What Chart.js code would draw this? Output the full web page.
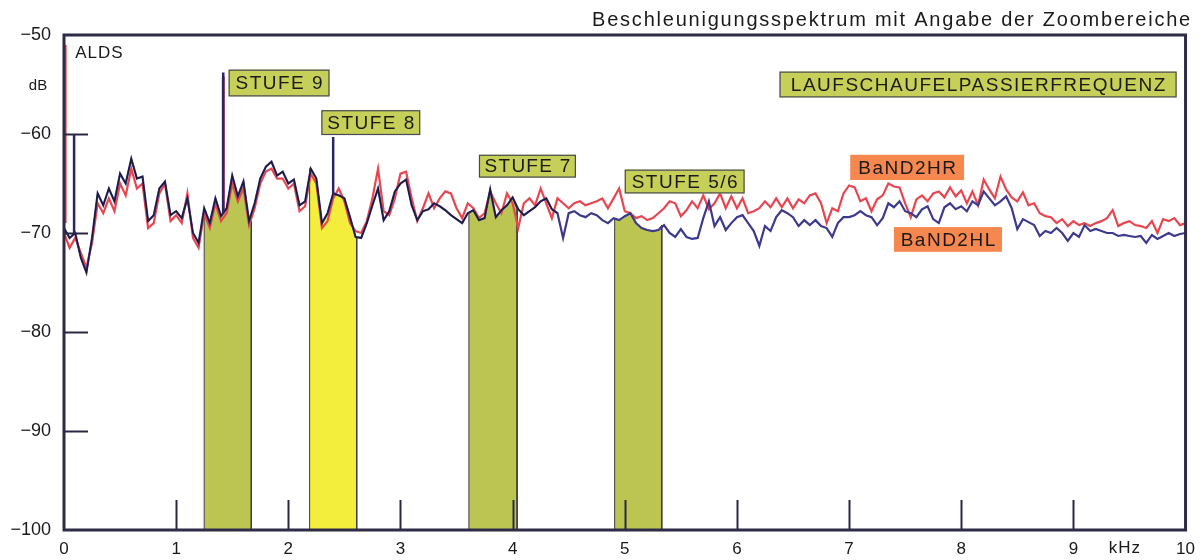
<!DOCTYPE html>
<html lang="de">
<head>
    <meta charset="UTF-8">
    <title>Beschleunigungsspektrum</title>
    <script src="https://cdn.jsdelivr.net/npm/chart.js"></script>
    <style>
        body { margin: 0; background: #fff; }
        #wrap { width: 1204px; height: 560px; }
    </style>
</head>
<body>
    <div id="wrap"><canvas id="spectrum" width="1204" height="560"></canvas></div>

    <script>
        // Spektrum, 0..10 kHz in Schritten von 0,05 kHz (Werte in dB)
        const stepKHz = 0.05;

        const bandHL = [
            -69.5,-70.5,-70.0,-72.5,-74.0,-70.5,-66.0,-67.2,-65.5,-66.8,-64.0,-65.0,-62.5,-64.5,-64.3,-68.8,-68.2,-65.5,-64.8,-68.2,
            -67.8,-68.5,-66.5,-70.0,-71.0,-67.5,-69.0,-66.5,-68.3,-67.5,-64.2,-66.3,-64.8,-68.8,-67.0,-64.5,-63.3,-62.8,-64.2,-63.8,
            -65.0,-64.6,-67.2,-66.8,-63.5,-64.5,-69.0,-68.0,-66.0,-66.2,-66.5,-68.4,-70.4,-70.5,-69.0,-67.2,-65.5,-68.7,-67.8,-65.8,
            -65.0,-64.6,-67.2,-68.7,-67.8,-67.6,-67.0,-67.3,-67.7,-68.2,-68.6,-69.0,-68.0,-67.7,-68.7,-68.5,-65.6,-68.4,-67.7,-67.2,
            -66.4,-67.6,-68.2,-67.8,-67.4,-66.8,-66.5,-67.6,-68.0,-70.5,-68.0,-67.8,-68.2,-68.4,-68.0,-68.2,-68.7,-69.0,-68.5,-68.7,
            -68.3,-68.0,-69.0,-69.5,-69.7,-69.8,-69.7,-69.2,-70.0,-70.4,-69.6,-70.4,-70.6,-70.5,-68.5,-66.8,-69.3,-68.4,-69.7,-69.0,
            -68.4,-68.2,-69.0,-69.8,-71.3,-69.3,-69.8,-68.4,-67.7,-68.0,-68.4,-69.3,-68.7,-69.2,-68.7,-69.3,-69.5,-70.4,-69.0,-68.4,
            -68.4,-68.2,-67.8,-68.2,-68.4,-69.2,-68.5,-67.0,-67.4,-66.8,-67.8,-68.0,-68.4,-67.6,-67.3,-68.6,-69.0,-67.4,-67.0,-67.6,
            -67.3,-67.8,-66.8,-67.2,-65.8,-66.5,-67.2,-66.8,-66.3,-67.5,-69.6,-68.6,-68.9,-69.2,-70.3,-69.8,-70.0,-69.5,-70.0,-70.8,
            -70.0,-70.4,-69.2,-69.8,-69.6,-69.8,-70.0,-70.0,-70.3,-70.2,-70.3,-70.4,-70.3,-71.0,-70.2,-70.6,-70.3,-70.0,-70.3,-70.1,
            -70.0
        ];

        const bandHR = [
            -70.0,-71.5,-70.5,-72.0,-73.5,-71.0,-67.0,-68.0,-66.5,-67.8,-65.0,-66.2,-63.5,-65.5,-65.0,-69.5,-69.0,-66.0,-65.0,-68.8,
            -68.2,-69.0,-66.0,-70.5,-71.5,-68.0,-69.5,-67.0,-68.8,-68.0,-65.0,-66.8,-65.5,-69.2,-67.5,-65.0,-63.8,-63.5,-64.5,-64.5,
            -65.5,-65.0,-67.8,-67.3,-64.0,-65.0,-69.5,-68.8,-66.5,-65.5,-66.8,-69.0,-69.8,-70.0,-68.8,-66.5,-63.5,-67.8,-68.2,-66.5,
            -64.0,-63.8,-66.5,-68.8,-67.5,-66.0,-67.5,-66.5,-65.8,-66.0,-67.5,-68.5,-67.0,-67.5,-68.5,-68.0,-65.8,-67.0,-68.0,-66.0,
            -67.0,-69.5,-67.0,-66.5,-67.2,-65.5,-67.0,-68.5,-66.5,-67.0,-67.5,-67.0,-66.8,-67.2,-67.0,-66.8,-66.5,-67.5,-66.5,-65.5,
            -67.8,-68.0,-68.5,-68.3,-68.7,-68.5,-68.0,-67.5,-66.8,-67.0,-68.3,-67.7,-66.8,-67.5,-66.2,-67.6,-67.0,-66.0,-67.5,-66.3,
            -67.5,-66.5,-68.0,-67.8,-67.5,-66.8,-67.4,-66.5,-67.4,-66.5,-67.5,-66.6,-67.0,-66.2,-66.0,-67.0,-69.0,-67.5,-67.8,-66.0,
            -65.2,-65.4,-66.8,-66.5,-67.8,-66.6,-66.2,-65.0,-65.3,-65.4,-67.0,-68.4,-66.6,-66.2,-66.8,-66.0,-65.8,-66.4,-65.4,-66.3,
            -65.7,-67.0,-65.8,-67.2,-64.6,-65.6,-66.5,-64.3,-65.6,-66.4,-66.8,-65.9,-67.2,-67.0,-68.0,-68.3,-68.4,-69.0,-68.6,-69.3,
            -68.8,-69.2,-69.0,-69.3,-69.0,-68.8,-68.5,-67.7,-69.3,-69.0,-68.8,-69.2,-69.3,-69.5,-68.8,-70.0,-68.6,-68.8,-68.5,-69.2,
            -69.0
        ];

        // schmale Spitzen: [kHz, Fuss dB, Spitze dB]
        const peaksHL = [[0.09, -70.0, -60.0], [1.42, -68.0, -53.8], [2.40, -66.0, -60.3]];
        const peaksHR = [[0.01, -69.0, -51.0], [1.42, -68.0, -54.2]];

        // Zoombereiche [von kHz, bis kHz, Farbe]
        const zoomBands = [
            [1.25, 1.67, '#bcc552'],
            [2.19, 2.61, '#f3ee3c'],
            [3.61, 4.04, '#bcc552'],
            [4.91, 5.33, '#bcc552']
        ];

        const xTicks = [0, 1, 2, 3, 4, 5, 6, 7, 8, 9, 10];
        const yTicks = [-100, -90, -80, -70, -60, -50];

        // Beschriftungskaesten: [Text, x0, x1, yOben, yUnten, Hintergrund, Rahmen]
        const boxes = [
            ['STUFE 9', 1.468, 2.367, -53.5, -56.2, '#c6cf58', true],
            ['STUFE 8', 2.295, 3.176, -57.6, -60.1, '#c6cf58', true],
            ['STUFE 7', 3.70, 4.564, -62.1, -64.4, '#c6cf58', true],
            ['STUFE 5/6', 5.0, 6.068, -63.6, -66.0, '#c6cf58', true],
            ['LAUFSCHAUFELPASSIERFREQUENZ', 6.38, 9.92, -53.7, -56.3, '#c6cf58', true],
            ['BaND2HR', 7.01, 8.025, -62.1, -64.65, '#f5874f', false],
            ['BaND2HL', 7.40, 8.363, -69.4, -71.9, '#f5874f', false]
        ];

        const freqs = bandHL.map((_, i) => +(i * stepKHz).toFixed(2));
        const toPoints = arr => arr.map((v, i) => ({ x: freqs[i], y: v }));

        function bandData(from, to) {
            const iA = Math.round(from / stepKHz);
            const iB = Math.round(to / stepKHz);
            const pts = [{ x: from, y: -100 }, { x: from, y: bandHL[iA] }];
            for (let i = iA; i <= iB; i++) {
                if (freqs[i] > from && freqs[i] < to) pts.push({ x: freqs[i], y: bandHL[i] });
            }
            pts.push({ x: to, y: bandHL[iB] }, { x: to, y: -100 });
            return pts;
        }

        const datasets = [];

        peaksHL.forEach(p => datasets.push({
            data: [{ x: p[0], y: p[1] }, { x: p[0], y: p[2] }],
            borderColor: '#2a2660', borderWidth: 2.5, order: 0
        }));

        // dunkle Ueberdeckung im linken Teil
        datasets.push({
            data: toPoints(bandHL).filter(p => p.x <= 4.4),
            borderColor: '#1c1a30', borderWidth: 1.3, order: 1
        });

        datasets.push({ label: 'BaND2HL', data: toPoints(bandHL), borderColor: '#3d3a8e', borderWidth: 2.2, order: 2 });

        peaksHR.forEach(p => datasets.push({
            data: [{ x: p[0], y: p[1] }, { x: p[0], y: p[2] }],
            borderColor: '#e8454f', borderWidth: 3, order: 3
        }));

        datasets.push({ label: 'BaND2HR', data: toPoints(bandHR), borderColor: '#e8454f', borderWidth: 2.2, order: 4 });

        zoomBands.forEach(b => datasets.push({
            data: bandData(b[0], b[1]),
            borderColor: '#3a3a3a', borderWidth: 1,
            backgroundColor: b[2], fill: 'start', order: 10
        }));

        datasets.forEach(d => { d.pointRadius = 0; d.tension = 0; });

        const FONT = '"Liberation Sans", Arial, sans-serif';

        function fitText(ctx, text, width, maxLs) {
            ctx.letterSpacing = '0px';
            const tw = ctx.measureText(text).width;
            const ls = Math.max(0, Math.min(maxLs, (width - tw) / text.length));
            ctx.letterSpacing = ls.toFixed(2) + 'px';
            return ls;
        }

        const deco = {
            id: 'deco',
            afterDatasetsDraw(chart) {
                const ctx = chart.ctx;
                const xs = chart.scales.x, ys = chart.scales.y;
                const a = chart.chartArea;
                ctx.save();

                // innere Teilstriche
                ctx.strokeStyle = '#2a2840';
                ctx.lineWidth = 2;
                yTicks.slice(1, -1).forEach(v => {
                    const py = Math.round(ys.getPixelForValue(v)) + 0.5;
                    ctx.beginPath(); ctx.moveTo(a.left, py); ctx.lineTo(a.left + 24, py); ctx.stroke();
                });
                xTicks.slice(1, -1).forEach(v => {
                    const px = Math.round(xs.getPixelForValue(v)) + 0.5;
                    ctx.beginPath(); ctx.moveTo(px, a.bottom); ctx.lineTo(px, a.bottom - 30); ctx.stroke();
                });

                // Rahmen
                ctx.lineWidth = 3;
                ctx.strokeStyle = '#2d2b45';
                ctx.strokeRect(a.left, a.top, a.right - a.left, a.bottom - a.top);

                // Kaesten
                boxes.forEach(b => {
                    const x0 = xs.getPixelForValue(b[1]), x1 = xs.getPixelForValue(b[2]);
                    const y0 = ys.getPixelForValue(b[3]), y1 = ys.getPixelForValue(b[4]);
                    ctx.fillStyle = b[5];
                    ctx.fillRect(x0, y0, x1 - x0, y1 - y0);
                    if (b[6]) {
                        ctx.lineWidth = 1.2;
                        ctx.strokeStyle = '#4a4a55';
                        ctx.strokeRect(x0 + 0.5, y0 + 0.5, x1 - x0 - 1, y1 - y0 - 1);
                    }
                    ctx.font = '19px ' + FONT;
                    const ls = fitText(ctx, b[0], x1 - x0 - 10, 1.5);
                    ctx.fillStyle = '#1a1a1a';
                    ctx.textAlign = 'center';
                    ctx.textBaseline = 'middle';
                    ctx.fillText(b[0], (x0 + x1) / 2 + ls / 2, (y0 + y1) / 2 + 1);
                });

                // freie Texte
                ctx.fillStyle = '#1a1a1a';
                ctx.textBaseline = 'middle';
                ctx.font = '17px ' + FONT;
                ctx.letterSpacing = '1px';
                ctx.textAlign = 'left';
                ctx.fillText('ALDS', xs.getPixelForValue(0.1), ys.getPixelForValue(-51.8));
                ctx.font = '15px ' + FONT;
                ctx.letterSpacing = '0px';
                ctx.textAlign = 'center';
                ctx.fillText('dB', a.left - 26, ys.getPixelForValue(-55.1));
                ctx.font = '17px ' + FONT;
                ctx.letterSpacing = '1px';
                ctx.fillText('kHz', xs.getPixelForValue(9.46), a.bottom + 18);

                const title = 'Beschleunigungsspektrum mit Angabe der Zoombereiche';
                ctx.font = '20px ' + FONT;
                fitText(ctx, title, 600, 2);
                ctx.textAlign = 'right';
                ctx.fillText(title, 1192, 20);
                ctx.restore();
            }
        };

        new Chart(document.getElementById('spectrum'), {
            type: 'line',
            data: { datasets: datasets },
            options: {
                responsive: false,
                animation: false,
                layout: { padding: { top: 35, right: 16, left: 0, bottom: 0 } },
                plugins: { legend: { display: false }, tooltip: { enabled: false }, title: { display: false } },
                scales: {
                    x: {
                        type: 'linear', min: 0, max: 10,
                        afterBuildTicks: s => { s.ticks = xTicks.map(v => ({ value: v })); },
                        afterFit: s => { s.height = 30; },
                        grid: { display: false, drawTicks: false },
                        border: { display: false },
                        ticks: {
                            padding: 9, color: '#1a1a1a', maxRotation: 0, autoSkip: false,
                            font: { family: FONT, size: 17 }
                        }
                    },
                    y: {
                        type: 'linear', min: -100, max: -50,
                        afterBuildTicks: s => { s.ticks = yTicks.map(v => ({ value: v })); },
                        afterFit: s => { s.width = 64; },
                        grid: { display: false, drawTicks: false },
                        border: { display: false },
                        ticks: {
                            padding: 13, color: '#1a1a1a',
                            font: { family: FONT, size: 18 },
                            callback: v => String(v).replace('-', '\u2212')
                        }
                    }
                }
            },
            plugins: [deco]
        });
    </script>
</body>
</html>
